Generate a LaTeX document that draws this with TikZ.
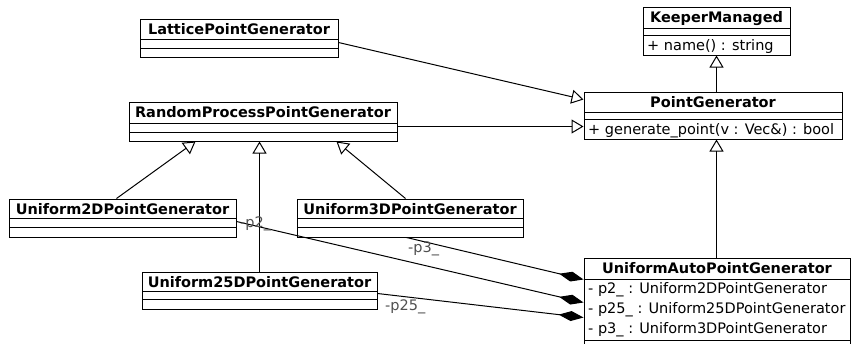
\documentclass[tikz,border=0pt]{standalone}
\usepackage{fontspec}
\setmainfont{DejaVu Sans}
\usetikzlibrary{arrows.meta,calc,fit}
\definecolor{rolegray}{RGB}{80,80,80}
\tikzset{
  umlbox/.style={draw, line width=1pt, fill=white, inner sep=0pt},
  classtitle/.style={font=\fontsize{14.5}{17}\selectfont\bfseries, inner sep=0pt, anchor=base},
  member/.style={font=\fontsize{14.5}{17}\selectfont, inner sep=0pt, anchor=base west},
  role/.style={font=\fontsize{14.5}{17}\selectfont, text=rolegray, inner sep=0pt, anchor=base west},
  generalize/.style={draw, line width=1pt, -{Triangle[open,length=12pt,width=14pt]}},
  composite/.style={draw, line width=1pt, -{Diamond[length=25pt,width=10pt]}},
}
% \umlclass{name}{x1}{y1}{x2}{y2}{sep1}{sep2}{title}
\newcommand\umlclass[8]{%
  \coordinate (#1-nw) at (#2,#3);
  \coordinate (#1-se) at (#4,#5);
  \node[umlbox, fit=(#1-nw)(#1-se)] (#1) {};
  \draw[line width=1pt] (#2,#6) -- (#4,#6);
  \draw[line width=1pt] (#2,#7) -- (#4,#7);
  \node[classtitle] (#1-title) at ({(#2+#4)/2},{#3+15.5}) {#8};
}
\begin{document}
\begin{tikzpicture}[x=1pt,y=-1pt]
\useasboundingbox (0,0) rectangle (852,343);
\clip (0,0) rectangle (852,343);

% classes
\umlclass{lat}{140}{19}{338}{57}{39}{48}{LatticePointGenerator}
\umlclass{keeper}{643}{7}{790}{55}{28}{35}{KeeperManaged}
\umlclass{pg}{584}{92}{842}{139}{112}{119}{PointGenerator}
\umlclass{rpg}{129}{102}{397}{141}{123}{132}{RandomProcessPointGenerator}
\umlclass{utwo}{9}{199}{236}{237}{218}{227}{Uniform2DPointGenerator}
\umlclass{uthree}{297}{199}{523}{237}{218}{227}{Uniform3DPointGenerator}
\umlclass{utwofive}{142}{272}{377}{309}{291}{299}{Uniform25DPointGenerator}
\umlclass{uap}{584}{258}{850}{370}{279}{340}{UniformAutoPointGenerator}

% members
\node[member] (keeper-op) at (647,50) {+ name() : string};
\node[member] (pg-op) at (588,134) {+ generate\_point(v : Vec\&) : bool};
\node[member] (uap-a1) at (588,293) {- p2\_ : Uniform2DPointGenerator};
\node[member] (uap-a2) at (588,313) {- p25\_ : Uniform25DPointGenerator};
\node[member] (uap-a3) at (588,333) {- p3\_ : Uniform3DPointGenerator};

% generalizations
\draw[generalize] ($(lat.north east)+(0,24)$) -- ($(pg.north west)+(0,8)$);
\draw[generalize] ($(rpg.north east)+(0,25)$) -- ($(pg.north west)+(0,35)$);
\draw[generalize] (pg.north -| keeper.south) -- (keeper.south);
\draw[generalize] (uap.north -| keeper.south) -- (pg.south -| keeper.south);
\draw[generalize] ($(utwo.north west)+(108,0)$) -- ($(rpg.south west)+(67,0)$);
\draw[generalize] ($(utwofive.north west)+(118,0)$) -- ($(rpg.south west)+(131,0)$);
\draw[generalize] ($(uthree.north west)+(109,0)$) -- ($(rpg.south west)+(208,0)$);

% compositions with role names
\draw[composite] ($(uthree.south west)+(110,0)$) -- ($(uap.north west)+(0,22)$);
\draw[composite] ($(utwo.north east)+(0,23)$) -- ($(uap.north west)+(0,45)$);
\draw[composite] ($(utwofive.north east)+(0,22)$) -- ($(uap.north west)+(0,60)$);
\node[role] (r2) at (240,227) {-p2\_};
\node[role] (r3) at (408,252) {-p3\_};
\node[role] (r25) at (385,310) {-p25\_};
\end{tikzpicture}
\end{document}
